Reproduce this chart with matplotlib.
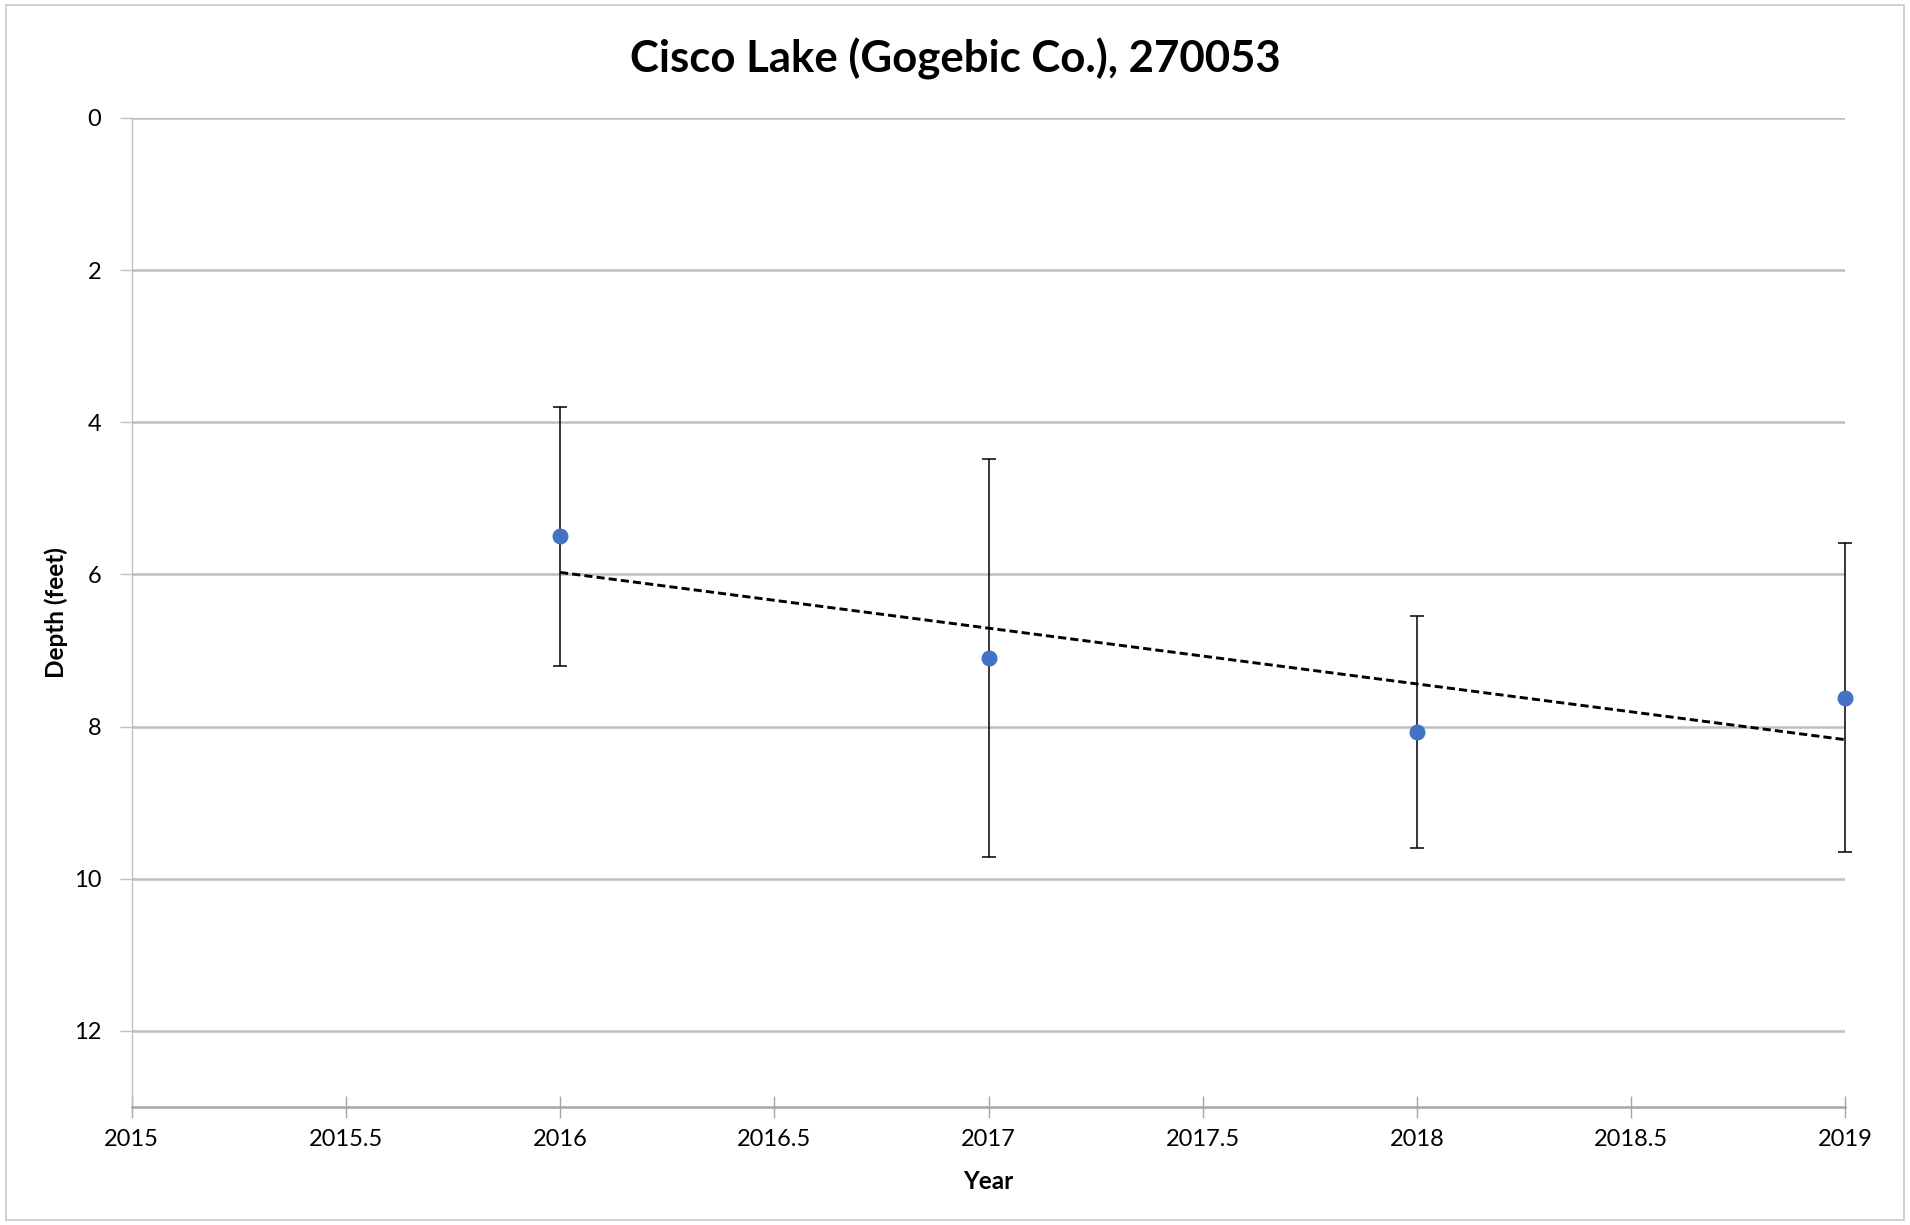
import numpy as np
import matplotlib
matplotlib.use("Agg")
import matplotlib.pyplot as plt
from matplotlib.patches import Rectangle

# datos
years = [2016, 2017, 2018, 2019]
depth = [5.50, 7.10, 8.07, 7.62]
depth_err = [1.70, 2.62, 1.53, 2.03]
x_ticks = [2015, 2015.5, 2016, 2016.5, 2017, 2017.5, 2018, 2018.5, 2019]
x_labels = ["2015", "2015.5", "2016", "2016.5", "2017", "2017.5", "2018", "2018.5", "2019"]
y_ticks = [0, 2, 4, 6, 8, 10, 12]

plt.rcParams['font.family'] = ['Lato', 'DejaVu Sans']

fig = plt.figure(figsize=(19.1, 12.25), dpi=100)
ax_left, ax_w = 0.0689, 0.8973
ax = fig.add_axes([ax_left, 0.0963, ax_w, 0.8074])

# borde del area del grafico
fig.patches.append(Rectangle((0.003, 0.004), 0.994, 0.992, transform=fig.transFigure,
                             fill=False, edgecolor="#C8C8C8", linewidth=1.2))

ax.errorbar(years, depth, yerr=depth_err, fmt="o", color="#4472C4", markersize=10.5,
            ecolor="black", elinewidth=1.1, capsize=5, capthick=1.1, zorder=3,
            clip_on=False)

# linea de tendencia lineal
m, b = np.polyfit(years, depth, 1)
xt = np.array([years[0], years[-1]])
ax.plot(xt, m * xt + b, color="black", linewidth=2.1, dashes=(2.8, 1.4), zorder=4)

ax.set_xlim(2015, 2019)
ax.set_ylim(13, 0)
ax.set_xticks(x_ticks)
ax.set_xticklabels(x_labels)
ax.set_yticks(y_ticks)

ax.grid(axis="y", color="#BFBFBF", linewidth=1.8)
ax.set_axisbelow(True)
for s in ["top", "right"]:
    ax.spines[s].set_visible(False)
ax.spines["left"].set_color("#BFBFBF")
ax.spines["bottom"].set_color("#A6A6A6")
ax.spines["bottom"].set_linewidth(1.8)
ax.spines["left"].set_linewidth(1.0)

ax.tick_params(axis="x", direction="inout", length=16, width=1, color="#A6A6A6",
               labelsize=17, pad=8)
ax.tick_params(axis="y", direction="out", length=9, width=1, color="#BFBFBF",
               labelsize=17, pad=13)

# titulo centrado en la figura, no en los ejes
ax.set_title("Cisco Lake (Gogebic Co.), 270053", fontsize=31.5, fontweight="bold", pad=33,
             x=(0.5 - ax_left) / ax_w)
ax.set_xlabel("Year", fontsize=17.5, fontweight="bold", labelpad=14)
ax.set_ylabel("Depth (feet)", fontsize=17.5, fontweight="bold", labelpad=4)

plt.savefig("out.png", dpi=100)
